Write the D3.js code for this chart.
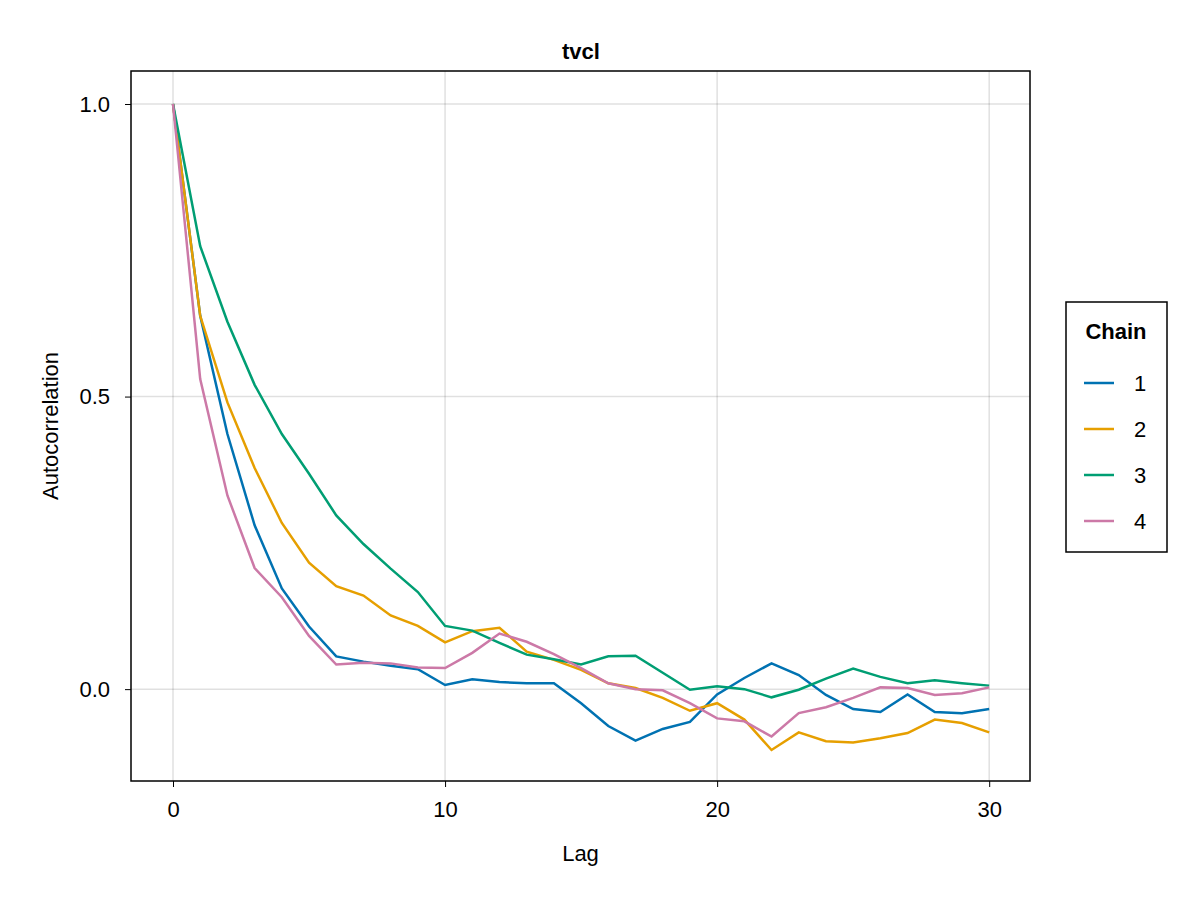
<!DOCTYPE html>
<html><head><meta charset="utf-8">
<script src="https://cdn.jsdelivr.net/npm/d3@7"></script>
<style>body{margin:0;background:#fff}text{font-family:"Liberation Sans",Arial,sans-serif}</style>
</head><body><svg id="c" width="1200" height="900"></svg>
<script>
const lags = d3.range(0,31);
const chain1 = [1,0.638,0.436,0.28,0.172,0.107,0.056,0.047,0.04,0.034,0.007,0.017,0.012,0.01,0.01,-0.024,-0.063,-0.088,-0.068,-0.056,-0.009,0.019,0.044,0.024,-0.01,-0.034,-0.039,-0.009,-0.039,-0.041,-0.034];
const chain2 = [1,0.638,0.49,0.378,0.284,0.216,0.176,0.16,0.126,0.108,0.08,0.099,0.105,0.064,0.05,0.033,0.01,0.002,-0.015,-0.037,-0.024,-0.052,-0.104,-0.074,-0.089,-0.091,-0.084,-0.075,-0.052,-0.058,-0.074];
const chain3 = [1,0.757,0.628,0.52,0.436,0.368,0.297,0.248,0.206,0.166,0.108,0.1,0.079,0.059,0.051,0.042,0.056,0.057,0.028,-0.001,0.005,0,-0.014,-0.001,0.018,0.035,0.021,0.01,0.015,0.01,0.006];
const chain4 = [1,0.53,0.331,0.207,0.157,0.091,0.042,0.045,0.044,0.037,0.036,0.062,0.095,0.081,0.06,0.036,0.01,0,-0.002,-0.024,-0.05,-0.055,-0.081,-0.041,-0.031,-0.015,0.003,0.002,-0.01,-0.007,0.003];
const chainNames = ["1","2","3","4"];
const colors = ["#0072B2","#E69F00","#009E73","#CC79A7"];
const xTicks = [0,10,20,30];
const yTicks = [0,0.5,1];
const series = [chain1,chain2,chain3,chain4];

const svg = d3.select("#c");
const L=131,R=1030,T=71,B=781;
const x = d3.scaleLinear().domain([-1.544,31.5]).range([L,R]);
const y = d3.scaleLinear().domain([-0.157,1.0564]).range([B,T]);

const g = svg.append("g");
g.selectAll(".gx").data(xTicks).join("line").attr("x1",d=>x(d)).attr("x2",d=>x(d)).attr("y1",T).attr("y2",B).attr("stroke","#000").attr("stroke-opacity",0.12).attr("stroke-width",1.5);
g.selectAll(".gy").data(yTicks).join("line").attr("y1",d=>y(d)).attr("y2",d=>y(d)).attr("x1",L).attr("x2",R).attr("stroke","#000").attr("stroke-opacity",0.12).attr("stroke-width",1.5);

const line = d3.line().x((d,i)=>x(lags[i])).y(d=>y(d));
series.forEach((s,i)=>{
  svg.append("path").attr("d",line(s)).attr("fill","none").attr("stroke",colors[i]).attr("stroke-width",2.5);
});
svg.append("rect").attr("x",L).attr("y",T).attr("width",R-L).attr("height",B-T).attr("fill","none").attr("stroke","#000").attr("stroke-width",1.5);

const xa = svg.append("g").attr("transform",`translate(0,${B})`).call(d3.axisBottom(x).tickValues(xTicks).tickFormat(d3.format("d")).tickSize(6));
const ya = svg.append("g").attr("transform",`translate(${L},0)`).call(d3.axisLeft(y).tickValues(yTicks).tickFormat(d3.format(".1f")).tickSize(6));
[xa,ya].forEach(a=>{a.select(".domain").remove();a.selectAll("text").attr("font-size",22).attr("fill","#000").style("font-family","Liberation Sans");a.selectAll("line").attr("stroke","#000")});
xa.selectAll("text").attr("y",14).attr("dy","1.0em");
ya.selectAll("text").attr("x",-21);

svg.append("text").attr("x",581).attr("y",59).attr("text-anchor","middle").attr("font-size",22).attr("font-weight","bold").text("tvcl");
svg.append("text").attr("x",(L+R)/2).attr("y",861).attr("text-anchor","middle").attr("font-size",22).text("Lag");
svg.append("text").attr("transform",`translate(58,${(T+B)/2}) rotate(-90)`).attr("text-anchor","middle").attr("font-size",22).text("Autocorrelation");

const lg = svg.append("g");
lg.append("rect").attr("x",1066).attr("y",302).attr("width",101).attr("height",250).attr("fill","#fff").attr("stroke","#000").attr("stroke-width",1.5);
lg.append("text").attr("x",1116).attr("y",339).attr("text-anchor","middle").attr("font-size",22).attr("font-weight","bold").text("Chain");
chainNames.forEach((n,i)=>{
  const yy = 383+i*46;
  lg.append("line").attr("x1",1084).attr("x2",1114).attr("y1",yy).attr("y2",yy).attr("stroke",colors[i]).attr("stroke-width",2.5);
  lg.append("text").attr("x",1134).attr("y",yy+8).attr("font-size",22).text(n);
});
</script></body></html>
